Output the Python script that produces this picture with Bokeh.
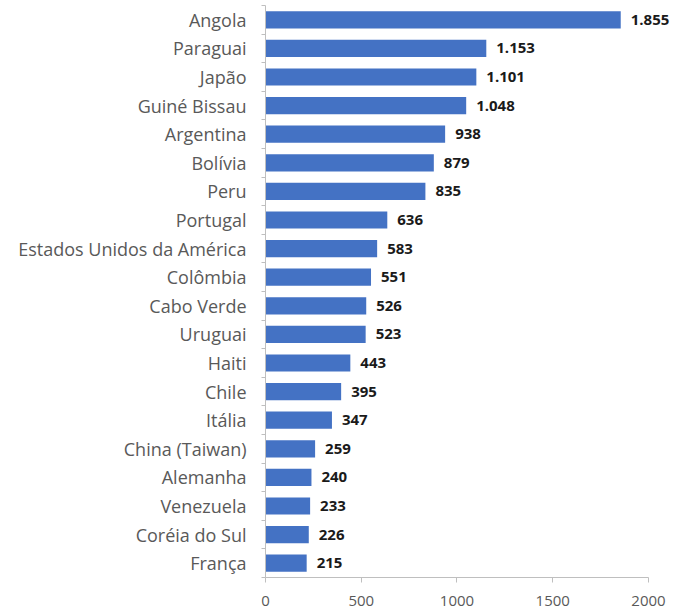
from bokeh.plotting import figure
from bokeh.models import ColumnDataSource, FixedTicker, Range1d, LabelSet
from bokeh.embed import file_html
from bokeh.resources import INLINE
from bokeh.core.properties import value

countries = ["Angola", "Paraguai", "Japão", "Guiné Bissau", "Argentina", "Bolívia", "Peru",
             "Portugal", "Estados Unidos da América", "Colômbia", "Cabo Verde", "Uruguai",
             "Haiti", "Chile", "Itália", "China (Taiwan)", "Alemanha", "Venezuela",
             "Coréia do Sul", "França"]
values = [1855, 1153, 1101, 1048, 938, 879, 835, 636, 583, 551, 526, 523, 443, 395, 347,
          259, 240, 233, 226, 215]
x_ticks = [0, 500, 1000, 1500, 2000]

n = len(countries)
ypos = [n - 0.5 - i for i in range(n)]
labels = [f"{v:,}".replace(",", ".") for v in values]

src = ColumnDataSource(dict(y=ypos, v=values, lab=labels))

p = figure(width=678, height=609, output_backend="svg", toolbar_location=None,
           x_range=Range1d(0, 2141), y_range=Range1d(0, n),
           min_border_left=265, min_border_right=3, min_border_top=5, min_border_bottom=32)
p.outline_line_color = None
p.xgrid.visible = False
p.ygrid.visible = False

p.hbar(y="y", right="v", left=0, height=0.6, source=src, fill_color="#4472C4", line_color=None)
p.add_layout(LabelSet(x="v", y="y", text="lab", source=src, x_offset=10, text_baseline="middle",
                      text_align="left", text_font=value("Open Sans"), text_font_style="bold",
                      text_font_size="15px", text_color="#1a1a1a"))

p.xaxis.ticker = FixedTicker(ticks=x_ticks)
p.xaxis.bounds = (0, 2000)
p.xaxis.axis_line_color = "#bfbfbf"
p.xaxis.major_tick_line_color = "#bfbfbf"
p.xaxis.major_tick_in = 0
p.xaxis.major_tick_out = 5
p.xaxis.minor_tick_line_color = None
p.xaxis.major_label_standoff = 13
p.xaxis.major_label_text_font = "Open Sans"
p.xaxis.major_label_text_font_size = "15px"
p.xaxis.major_label_text_color = "#595959"

p.yaxis.ticker = FixedTicker(ticks=ypos, minor_ticks=list(range(n + 1)))
p.yaxis.major_label_overrides = {y: c for y, c in zip(ypos, countries)}
p.yaxis.axis_line_color = "#bfbfbf"
p.yaxis.major_tick_line_color = None
p.yaxis.major_tick_in = 0
p.yaxis.major_tick_out = 0
p.yaxis.minor_tick_line_color = "#bfbfbf"
p.yaxis.minor_tick_in = 0
p.yaxis.minor_tick_out = 4
p.yaxis.major_label_standoff = 15
p.yaxis.major_label_text_font = "Open Sans"
p.yaxis.major_label_text_font_size = "18px"
p.yaxis.major_label_text_color = "#595959"

open("out.html", "w").write(file_html(p, INLINE))
